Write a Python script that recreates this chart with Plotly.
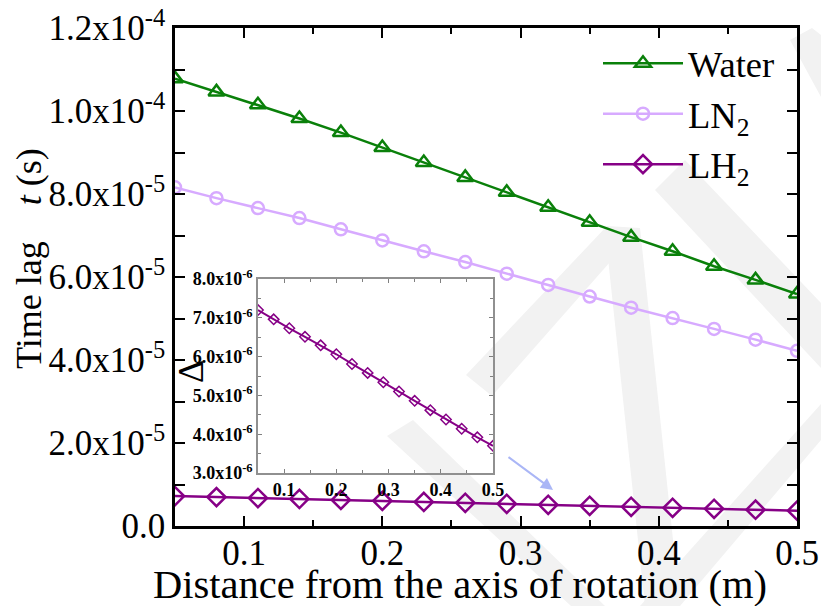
import plotly.graph_objects as go

# ---------------- data ----------------
x_vals = [0.05, 0.08, 0.11, 0.14, 0.17, 0.20, 0.23, 0.26, 0.29, 0.32, 0.35, 0.38, 0.41, 0.44, 0.47, 0.50]
water = [1.078e-4, 1.046e-4, 1.015e-4, 0.982e-4, 0.948e-4, 0.912e-4, 0.876e-4, 0.840e-4,
         0.804e-4, 0.768e-4, 0.732e-4, 0.696e-4, 0.662e-4, 0.626e-4, 0.593e-4, 0.559e-4]
ln2 = [8.16e-5, 7.90e-5, 7.66e-5, 7.42e-5, 7.15e-5, 6.88e-5, 6.62e-5, 6.36e-5,
       6.08e-5, 5.81e-5, 5.53e-5, 5.26e-5, 5.01e-5, 4.75e-5, 4.49e-5, 4.22e-5]
lh2 = [7.20e-6, 6.96e-6, 6.73e-6, 6.51e-6, 6.29e-6, 6.06e-6, 5.81e-6, 5.58e-6,
       5.34e-6, 5.10e-6, 4.86e-6, 4.62e-6, 4.38e-6, 4.14e-6, 3.92e-6, 3.70e-6]

main_ytickvals = [0, 2e-5, 4e-5, 6e-5, 8e-5, 1.0e-4, 1.2e-4]
main_yticktext = ["0.0", "2.0x10<sup>-5</sup>", "4.0x10<sup>-5</sup>", "6.0x10<sup>-5</sup>",
                  "8.0x10<sup>-5</sup>", "1.0x10<sup>-4</sup>", "1.2x10<sup>-4</sup>"]
inset_ytickvals = [3e-6, 4e-6, 5e-6, 6e-6, 7e-6, 8e-6]
inset_yticktext = ["3.0x10<sup>-6</sup>", "4.0x10<sup>-6</sup>", "5.0x10<sup>-6</sup>",
                   "6.0x10<sup>-6</sup>", "7.0x10<sup>-6</sup>", "8.0x10<sup>-6</sup>"]

names = ["Water", "LN<sub>2</sub>", "LH<sub>2</sub>"]
colors = ["#0a800a", "#d7aaff", "#860086"]

# ---------------- layout helpers ----------------
W, H = 821, 606
L, R, T, B = 175, 24, 28, 80
pw, ph = W - L - R, H - T - B


def px(x):
    return (x - L) / pw


def py(y):
    return (H - B - y) / ph


FONT = "Times New Roman, Liberation Serif, serif"

fig = go.Figure()

fig.add_trace(go.Scatter(x=x_vals, y=water, name=names[0], mode="lines+markers",
                         line=dict(color=colors[0], width=2.5),
                         marker=dict(symbol="triangle-up-open", size=14, color=colors[0],
                                     line=dict(width=2.5, color=colors[0]))))
fig.add_trace(go.Scatter(x=x_vals, y=ln2, name=names[1], mode="lines+markers",
                         line=dict(color=colors[1], width=2.5),
                         marker=dict(symbol="circle-open", size=12, color=colors[1],
                                     line=dict(width=2.5, color=colors[1]))))
fig.add_trace(go.Scatter(x=x_vals, y=lh2, name=names[2], mode="lines+markers",
                         line=dict(color=colors[2], width=2.5),
                         marker=dict(symbol="diamond-open", size=14, color=colors[2],
                                     line=dict(width=2.5, color=colors[2]))))
# inset
fig.add_trace(go.Scatter(x=x_vals, y=lh2, xaxis="x2", yaxis="y2", mode="lines+markers",
                         showlegend=False,
                         line=dict(color=colors[2], width=2),
                         marker=dict(symbol="diamond-open", size=8, color=colors[2],
                                     line=dict(width=1.5, color=colors[2]))))

# watermark polygons (pixel coordinates converted to paper)
polys = [
    [(387, 436), (413, 420), (605, 606), (571, 606)],
    [(466, 375), (607, 226), (640, 228), (492, 396)],
    [(605, 230), (640, 228), (680, 606), (645, 606)],
    [(821, 404), (821, 440), (680, 606), (640, 606)],
    [(655, 190), (685, 160), (821, 303), (821, 368)],
    [(790, 40), (812, 28), (821, 35), (821, 97)],
]
shapes = []
for poly in polys:
    path = "M " + " L ".join(f"{px(a):.4f},{py(b):.4f}" for a, b in poly) + " Z"
    shapes.append(dict(type="path", xref="paper", yref="paper", path=path,
                       fillcolor="#f2f2f2", line=dict(width=0), layer="below"))

annotations = [
    dict(text="Time lag\u00a0\u00a0\u00a0\u00a0<i>t</i> (s)", xref="paper", yref="paper",
         x=px(29), y=py(259), textangle=-90, showarrow=False,
         font=dict(family=FONT, size=36, color="black"), xanchor="center", yanchor="middle"),
    dict(text="Distance from the axis of rotation (m)", xref="paper", yref="paper",
         x=px(460), y=py(584), showarrow=False,
         font=dict(family=FONT, size=40.5, color="black"), xanchor="center", yanchor="middle"),
    dict(text="Δ", xref="paper", yref="paper", x=px(191), y=py(372), textangle=-90,
         showarrow=False, font=dict(family=FONT, size=36, color="black"),
         xanchor="center", yanchor="middle"),
    dict(text="", xref="paper", yref="paper", x=px(553), y=py(490), ax=-46, ay=-34,
         showarrow=True, arrowcolor="#aab6f6", arrowwidth=2, arrowhead=2, arrowsize=1.2),
]

fig.update_layout(
    width=W, height=H,
    margin=dict(l=L, r=R, t=T, b=B, autoexpand=False),
    paper_bgcolor="white", plot_bgcolor="rgba(0,0,0,0)",
    font=dict(family=FONT, color="black"),
    shapes=shapes, annotations=annotations,
    legend=dict(x=px(598), y=py(33), xanchor="left", yanchor="top",
                bgcolor="rgba(0,0,0,0)", font=dict(family=FONT, size=36.5, color="black"),
                itemwidth=80, tracegroupgap=0),
    xaxis=dict(range=[0.05, 0.5], tickvals=[0.1, 0.2, 0.3, 0.4, 0.5],
               ticktext=["0.1", "0.2", "0.3", "0.4", "0.5"],
               ticks="inside", ticklen=10, tickwidth=2, tickcolor="black",
               ticklabelstandoff=-6,
               minor=dict(tickvals=[0.15, 0.25, 0.35, 0.45], ticks="inside", ticklen=6,
                          tickwidth=2, tickcolor="black"),
               showline=True, linecolor="black", linewidth=2.5, mirror="allticks",
               showgrid=False, zeroline=False,
               tickfont=dict(family=FONT, size=35, color="black")),
    yaxis=dict(range=[0, 1.2e-4], tickvals=main_ytickvals, ticktext=main_yticktext,
               ticks="inside", ticklen=10, tickwidth=2, tickcolor="black",
               minor=dict(tickvals=[1e-5, 3e-5, 5e-5, 7e-5, 9e-5, 1.1e-4], ticks="inside",
                          ticklen=10, tickwidth=2, tickcolor="black"),
               showline=True, linecolor="black", linewidth=2.5, mirror="allticks",
               showgrid=False, zeroline=False,
               tickfont=dict(family=FONT, size=35, color="black")),
    xaxis2=dict(domain=[px(258), px(493)], anchor="y2", range=[0.05, 0.5],
                tickvals=[0.1, 0.2, 0.3, 0.4, 0.5], ticktext=["0.1", "0.2", "0.3", "0.4", "0.5"],
                ticks="inside", ticklen=4, tickwidth=1, tickcolor="#808080",
                minor=dict(tickvals=[0.15, 0.25, 0.35, 0.45], ticks="inside", ticklen=3,
                           tickwidth=1, tickcolor="#808080"),
                showline=True, linecolor="#909090", linewidth=1.5, mirror="allticks",
                showgrid=False, zeroline=False,
                tickfont=dict(family=FONT, size=18, color="black", weight="bold")),
    yaxis2=dict(domain=[py(473), py(279)], anchor="x2", range=[3e-6, 8e-6],
                tickvals=inset_ytickvals, ticktext=inset_yticktext,
                ticks="inside", ticklen=4, tickwidth=1, tickcolor="#808080",
                minor=dict(tickvals=[3.5e-6, 4.5e-6, 5.5e-6, 6.5e-6, 7.5e-6], ticks="inside",
                           ticklen=3, tickwidth=1, tickcolor="#808080"),
                showline=True, linecolor="#909090", linewidth=1.5, mirror="allticks",
                showgrid=False, zeroline=False,
                tickfont=dict(family=FONT, size=18, color="black", weight="bold")),
)

fig.write_html("out.html")
